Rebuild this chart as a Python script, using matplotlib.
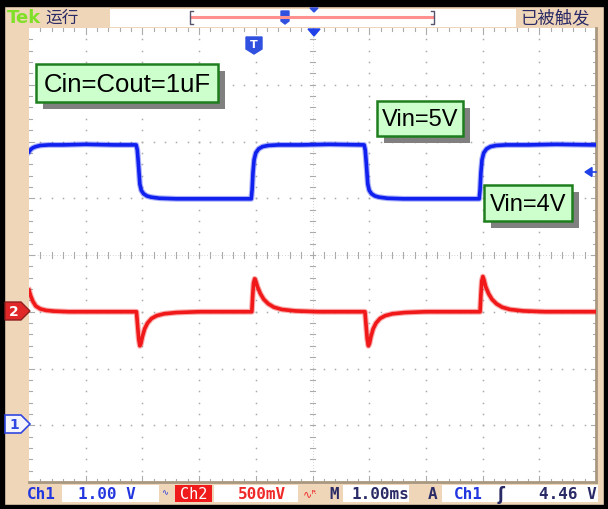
import matplotlib
matplotlib.use("Agg")
import matplotlib.pyplot as plt
from matplotlib.patches import Rectangle, Polygon

plt.rcParams['font.family'] = ['DejaVu Sans', 'Noto Sans CJK SC']

# ---------------- data (time in ms = divisions, 1.00 ms/div) ----------------
# Ch1: input voltage (1.00 V/div, ground at 1 div from bottom)
ch1_t = [0.00, 0.03, 0.07, 0.12, 0.20, 0.35, 0.6, 1.0, 1.5, 1.89,
         1.91, 1.93, 1.955, 1.98, 2.02, 2.08, 2.15, 2.3, 2.6, 3.0, 3.5, 3.92,
         3.935, 3.95, 3.97, 4.0, 4.05, 4.12, 4.22, 4.4, 4.8, 5.3, 5.91,
         5.93, 5.95, 5.975, 6.0, 6.04, 6.10, 6.17, 6.32, 6.6, 7.0, 7.5, 7.94,
         7.955, 7.97, 7.99, 8.02, 8.07, 8.14, 8.24, 8.42, 8.8, 9.3, 9.97]
ch1_v = [4.82, 4.86, 4.89, 4.91, 4.93, 4.94, 4.94, 4.95, 4.94, 4.94,
         4.85, 4.60, 4.25, 4.14, 4.08, 4.04, 4.02, 4.00, 3.99, 3.99, 3.99, 3.99,
         4.15, 4.45, 4.68, 4.80, 4.87, 4.91, 4.93, 4.94, 4.94, 4.95, 4.94,
         4.85, 4.60, 4.25, 4.14, 4.08, 4.04, 4.02, 4.00, 3.99, 3.99, 3.99, 3.99,
         4.15, 4.45, 4.68, 4.80, 4.87, 4.91, 4.93, 4.94, 4.94, 4.95, 4.94]

# Ch2: output voltage, AC coupled (500 mV/div, ground at 3 div from bottom)
ch2_t = [0.00, 0.03, 0.07, 0.12, 0.2, 0.3, 0.45, 0.7, 1.2, 1.895,
         1.915, 1.935, 1.955, 1.975, 2.0, 2.04, 2.09, 2.16, 2.25, 2.38, 2.6, 3.0, 3.5, 3.93,
         3.945, 3.96, 3.98, 4.0, 4.03, 4.08, 4.14, 4.22, 4.32, 4.46, 4.7, 5.1, 5.5, 5.925,
         5.945, 5.965, 5.985, 6.005, 6.03, 6.07, 6.12, 6.19, 6.28, 6.41, 6.63, 7.0, 7.5, 7.955,
         7.97, 7.985, 8.005, 8.025, 8.055, 8.105, 8.165, 8.245, 8.345, 8.485, 8.72, 9.1, 9.5, 9.97]
ch2_v = [0.19, 0.14, 0.09, 0.05, 0.025, 0.012, 0.005, 0.0, 0.0, 0.0,
         -0.12, -0.24, -0.30, -0.28, -0.22, -0.15, -0.10, -0.06, -0.035, -0.018, -0.007, 0.0, 0.0, 0.0,
         0.14, 0.25, 0.29, 0.27, 0.22, 0.16, 0.11, 0.07, 0.04, 0.02, 0.007, 0.0, 0.0, 0.0,
         -0.12, -0.24, -0.30, -0.28, -0.22, -0.15, -0.10, -0.06, -0.035, -0.018, -0.007, 0.0, 0.0, 0.0,
         0.15, 0.27, 0.31, 0.28, 0.22, 0.16, 0.11, 0.07, 0.04, 0.02, 0.007, 0.0, 0.0, 0.0]

ch1_scale, ch1_offset_div = 1.0, 1.0
ch2_scale, ch2_offset_div = 0.5, 3.0
n_xdiv, n_ydiv = 10, 8

annotations = ["Cin=Cout=1uF", "Vin=5V", "Vin=4V"]
status_ch1 = ("Ch1", "1.00 V")
status_ch2 = ("Ch2", "500mV")
status_time = "1.00ms"
status_trig = ("Ch1", "4.46 V")

# ---------------- figure ----------------
W, H = 608, 510
fig = plt.figure(figsize=(W / 100, H / 100), dpi=100)
fig.patch.set_facecolor('#F0D6B9')


def px_rect(x0, y0, x1, y1):
    return [x0 / W, 1 - y1 / H, (x1 - x0) / W, (y1 - y0) / H]


PX0, PY0, PX1, PY1 = 29, 29, 596, 483
ax = fig.add_axes(px_rect(PX0, PY0, PX1, PY1), zorder=1)
ax.set_xlim(0, n_xdiv)
ax.set_ylim(0, n_ydiv)
ax.set_facecolor('white')
ax.set_xticks([])
ax.set_yticks([])
for s in ['top', 'left']:
    ax.spines[s].set_visible(False)
for s in ['bottom', 'right']:
    ax.spines[s].set_color('#A89880')
    ax.spines[s].set_linewidth(2.0)

gcol = '#ABABAB'
# dotted graticule
for gx in range(1, n_xdiv):
    if gx == n_xdiv // 2:
        continue
    ys = [k * 0.2 for k in range(1, n_ydiv * 5)]
    ax.plot([gx] * len(ys), ys, ls='none', marker='s', ms=1.1, color=gcol, mew=0)
for gy in range(1, n_ydiv):
    if gy == n_ydiv // 2:
        continue
    xs = [k * 0.2 for k in range(1, n_xdiv * 5)]
    ax.plot(xs, [gy] * len(xs), ls='none', marker='s', ms=1.1, color=gcol, mew=0)
# center lines with ticks
cx, cy = n_xdiv / 2, n_ydiv / 2
for k in range(1, n_ydiv * 5):
    y = k * 0.2
    ax.plot([cx - 0.05, cx + 0.05], [y, y], color=gcol, lw=0.8)
for k in range(1, n_xdiv * 5):
    x = k * 0.2
    ax.plot([x, x], [cy - 0.06, cy + 0.06], color=gcol, lw=0.8)
ax.plot([cx, cx], [0, n_ydiv], color=gcol, lw=0.5, ls=(0, (1, 3)))
ax.plot([0, n_xdiv], [cy, cy], color=gcol, lw=0.5, ls=(0, (1, 3)))
# edge rulers
for k in range(1, n_xdiv * 5):
    x = k * 0.2
    L = 0.1 if k % 5 == 0 else 0.06
    ax.plot([x, x], [n_ydiv, n_ydiv - L], color=gcol, lw=0.8)
    ax.plot([x, x], [0, L], color=gcol, lw=0.8)
for k in range(1, n_ydiv * 5):
    y = k * 0.2
    L = 0.08 if k % 5 == 0 else 0.05
    ax.plot([0, L], [y, y], color=gcol, lw=0.8)
    ax.plot([n_xdiv, n_xdiv - L], [y, y], color=gcol, lw=0.8)

# channel axes (volts)
ax1 = fig.add_axes(px_rect(PX0, PY0, PX1, PY1), zorder=2)
ax1.set_xlim(0, n_xdiv)
ax1.set_ylim(-ch1_offset_div * ch1_scale, (n_ydiv - ch1_offset_div) * ch1_scale)
ax1.axis('off')
ax1.patch.set_alpha(0)
ax1.plot(ch1_t, ch1_v, color='#1020EE', lw=4.2, alpha=0.35, solid_joinstyle='round')
ax1.plot(ch1_t, ch1_v, color='#1020EE', lw=2.6, solid_joinstyle='round')

ax2 = fig.add_axes(px_rect(PX0, PY0, PX1, PY1), zorder=2)
ax2.set_xlim(0, n_xdiv)
ax2.set_ylim(-ch2_offset_div * ch2_scale, (n_ydiv - ch2_offset_div) * ch2_scale)
ax2.axis('off')
ax2.patch.set_alpha(0)
ax2.plot(ch2_t, ch2_v, color='#F01818', lw=4.2, alpha=0.35, solid_joinstyle='round')
ax2.plot(ch2_t, ch2_v, color='#F01818', lw=2.6, solid_joinstyle='round')

# ---------------- overlay (pixel coords) ----------------
ov = fig.add_axes([0, 0, 1, 1], zorder=5)
ov.set_xlim(0, W)
ov.set_ylim(H, 0)
ov.axis('off')
ov.patch.set_alpha(0)

# outer black frame
ov.add_patch(Rectangle((0, 0), W, 7, color='black'))
ov.add_patch(Rectangle((0, 0), 4, H, color='black'))
ov.add_patch(Rectangle((W - 4, 0), 4, H, color='black'))
ov.add_patch(Rectangle((0, H - 4), W, 4, color='black'))

navy = '#2A2A66'
# top status bar
ov.text(7, 18, "Tek", color='#80E028', fontsize=13, fontweight='bold', va='center', ha='left')
ov.text(45, 18, "运行", color=navy, fontsize=12, va='center', ha='left',
        family=['Noto Sans CJK SC', 'DejaVu Sans'])
ov.add_patch(Rectangle((110, 10), 406, 18, facecolor='white', edgecolor='none'))
ov.plot([191, 433], [18, 18], color='#FF9090', lw=2.2)
ov.plot([193, 190, 190, 193], [12, 12, 25, 25], color='#555570', lw=1)
ov.plot([431, 434, 434, 431], [12, 12, 25, 25], color='#555570', lw=1)
ov.add_patch(Polygon([[281, 12], [289, 12], [289, 22], [285, 25], [281, 22]], closed=True,
                     facecolor='#3050E0', edgecolor='#3050E0'))
ov.add_patch(Polygon([[310, 9], [318, 9], [314, 13]], closed=True, color='#3050E0'))
ov.text(520, 18, "已被触发", color=navy, fontsize=12.5, va='center', ha='left',
        family=['Noto Sans CJK SC', 'DejaVu Sans'])

# trigger position marker at top of graticule
ov.add_patch(Polygon([[308, 30], [320, 30], [314, 37]], closed=True, color='#2040E8'))
# T marker
ov.add_patch(Polygon([[246, 38], [262, 38], [262, 50], [254, 55], [246, 50]], closed=True,
                     facecolor='#3050E0', edgecolor='#3050E0'))
ov.text(254, 45, "T", color='white', fontsize=8, fontweight='bold', ha='center', va='center')

# channel ground markers
ov.add_patch(Polygon([[5, 303], [21, 303], [30, 312], [21, 321], [5, 321]], closed=True,
                     facecolor='#E02828', edgecolor='#902020', lw=1))
ov.text(14, 312.5, "2", color='white', fontsize=10, fontweight='bold', ha='center', va='center')
ov.add_patch(Polygon([[5, 416], [21, 416], [30, 425], [21, 434], [5, 434]], closed=True,
                     facecolor='#F4F4FF', edgecolor='#3048E0', lw=1.2))
ov.text(14, 425.5, "1", color='#3048E0', fontsize=10, fontweight='bold', ha='center', va='center')
# trigger level marker (right)
ov.add_patch(Polygon([[585, 173], [592, 168.5], [592, 177.5]], closed=True, color='#2040E8'))
ov.plot([590, 596], [173, 173], color='#2040E8', lw=1.2)

# annotation boxes with shadows
green_fill = '#CCFFCC'
green_edge = '#1E7E1E'
boxes = [(36, 65, 218, 103, 18.5), (377, 102, 463, 137, 17), (484, 186, 572, 222, 17)]
for (x0, y0, x1, y1, fs), label in zip(boxes, annotations):
    ov.add_patch(Rectangle((x0 + 7, y0 + 7), x1 - x0, y1 - y0, facecolor='#808080', edgecolor='none'))
    ov.add_patch(Rectangle((x0, y0), x1 - x0, y1 - y0, facecolor=green_fill,
                           edgecolor=green_edge, lw=1.8))
    ov.text((x0 + x1) / 2, (y0 + y1) / 2 + 1, label, fontsize=fs, color='black',
            ha='center', va='center', family=['Liberation Sans', 'DejaVu Sans'])

# bottom status bar
blue_t = '#2236E0'
red_t = '#F02828'
mono = ['DejaVu Sans Mono', 'DejaVu Sans']
yb = 495
ov.text(27, yb, status_ch1[0], color=blue_t, fontsize=11.5, fontweight='bold', ha='left', va='center', family=mono)
ov.add_patch(Rectangle((62, 486), 97, 17, facecolor='white', edgecolor='none'))
ov.text(136, yb, status_ch1[1], color=blue_t, fontsize=11.5, fontweight='bold', ha='right', va='center', family=mono)
ov.text(165, yb - 2, "∿", color=blue_t, fontsize=6, ha='center', va='center')
ov.add_patch(Rectangle((175, 486), 37, 17, facecolor='#F01C1C', edgecolor='none'))
ov.text(193.5, yb, status_ch2[0], color='white', fontsize=11, ha='center', va='center', family=mono)
ov.add_patch(Rectangle((214, 486), 84, 17, facecolor='white', edgecolor='none'))
ov.text(286, yb, status_ch2[1], color=red_t, fontsize=11.5, fontweight='bold', ha='right', va='center', family=mono)
ov.text(310, yb - 1, "∿ᴿ", color=red_t, fontsize=8, ha='center', va='center')
ov.text(334, yb, "M", color=navy, fontsize=11.5, fontweight='bold', ha='center', va='center', family=mono)
ov.add_patch(Rectangle((343, 486), 66, 17, facecolor='white', edgecolor='none'))
ov.text(409, yb, status_time, color=navy, fontsize=11.5, fontweight='bold', ha='right', va='center', family=mono)
ov.text(433, yb, "A", color=navy, fontsize=11.5, fontweight='bold', ha='center', va='center', family=mono)
ov.add_patch(Rectangle((442, 486), 156, 17, facecolor='white', edgecolor='none'))
ov.text(454, yb, status_trig[0], color=blue_t, fontsize=11.5, fontweight='bold', ha='left', va='center', family=mono)
ov.text(501, yb, "ʃ", color=navy, fontsize=12, fontweight='bold', ha='center', va='center')
ov.text(597, yb, status_trig[1], color=navy, fontsize=11.5, fontweight='bold', ha='right', va='center', family=mono)

fig.savefig('out.png', dpi=100)
